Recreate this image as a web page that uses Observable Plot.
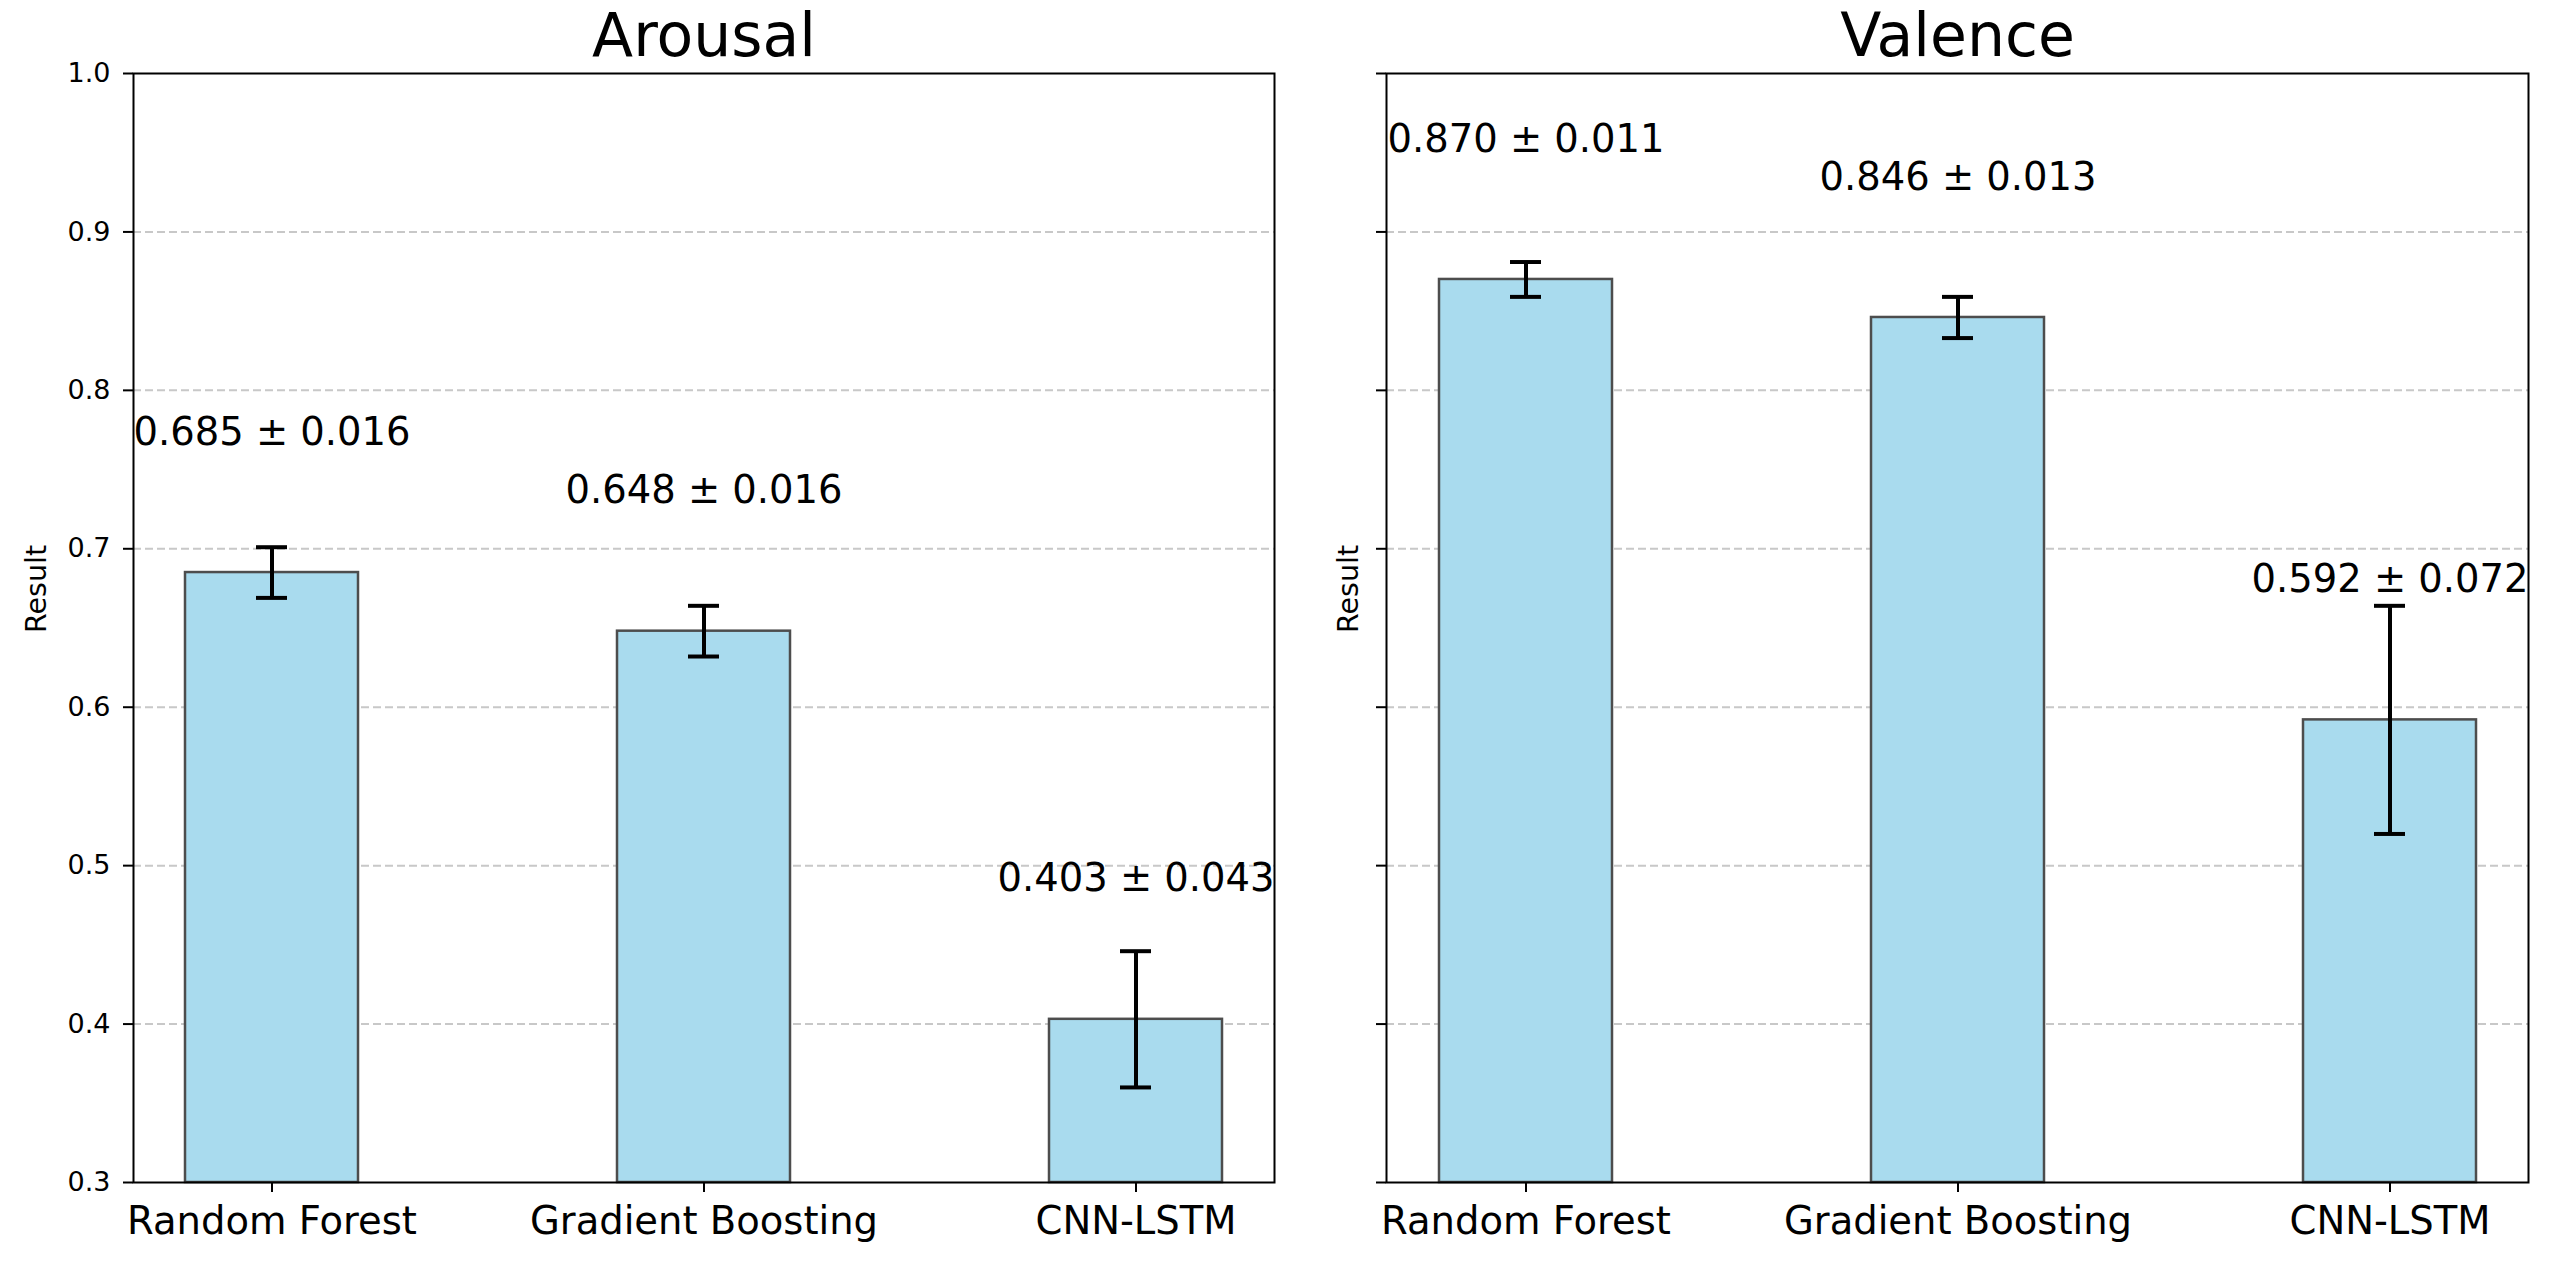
<!DOCTYPE html>
<html><head><meta charset="utf-8">
<script src="https://cdn.jsdelivr.net/npm/d3@7"></script>
<script src="https://cdn.jsdelivr.net/npm/@observablehq/plot@0.6"></script>
<style>
html,body{margin:0;padding:0;background:#fff;}
#wrap{display:flex;width:2565px;height:1276px;}
#wrap svg{display:block;}
</style></head><body><div id="wrap"></div>
<script>
const models = ["Random Forest", "Gradient Boosting", "CNN-LSTM"];
const arousalMean = [0.685, 0.648, 0.403];
const arousalStd = [0.016, 0.016, 0.043];
const valenceMean = [0.870, 0.846, 0.592];
const valenceStd = [0.011, 0.013, 0.072];
const yTicks = [0.3, 0.4, 0.5, 0.6, 0.7, 0.8, 0.9, 1.0];
const titles = ["Arousal", "Valence"];
const yLabel = "Result";

function panel({title, means, stds, width, marginLeft, marginRight, showTickLabels, labelDx}) {
  const data = models.map((m, i) => ({
    model: m, mean: means[i], std: stds[i],
    lo: means[i] - stds[i], hi: means[i] + stds[i],
    label: `${means[i].toFixed(3)} ± ${stds[i].toFixed(3)}`,
    ly: means[i] + 0.075
  }));
  return Plot.plot({
    width, height: 1276, marginTop: 73, marginBottom: 94, marginLeft, marginRight,
    style: {fontFamily: "DejaVu Sans", background: "white", overflow: "visible", color: "black"},
    x: {domain: models, paddingInner: 0.6, paddingOuter: 0.12, label: null},
    y: {domain: [0.3, 1.0], label: null},
    marks: [
      Plot.gridY(yTicks.slice(1, -1), {stroke: "#c8c8c8", strokeOpacity: 1, strokeWidth: 2, strokeDasharray: "8,4"}),
      Plot.barY(data, {x: "model", y1: 0.3, y2: "mean", fill: "#a9dbee", stroke: "#4d4d4d", strokeWidth: 2.5}),
      Plot.ruleX(data, {x: "model", y1: "lo", y2: "hi", stroke: "black", strokeWidth: 4}),
      Plot.tickY(data, {x: "model", y: "lo", stroke: "black", strokeWidth: 4, insetLeft: 71, insetRight: 71}),
      Plot.tickY(data, {x: "model", y: "hi", stroke: "black", strokeWidth: 4, insetLeft: 71, insetRight: 71}),
      Plot.text(data, {x: "model", y: "ly", text: "label", fontSize: 38.5, lineAnchor: "bottom", dy: -9, fill: "black"}),
      Plot.axisX({fontSize: 38.5, tickSize: 10, tickPadding: 14, strokeWidth: 2, label: null}),
      Plot.axisY({ticks: yTicks, fontSize: 27, tickSize: 10, tickPadding: 13, strokeWidth: 2, label: null,
        tickFormat: showTickLabels ? (d => d.toFixed(1)) : (() => "")}),
      Plot.frame({stroke: "black", strokeWidth: 2}),
      Plot.text([title], {frameAnchor: "top", dy: -18, lineAnchor: "bottom", fontSize: 60, fill: "black"}),
      Plot.text([yLabel], {frameAnchor: "left", dx: labelDx, dy: 5, rotate: -90, lineAnchor: "bottom", fontSize: 28.5, fill: "black"})
    ]
  });
}

const wrap = document.getElementById("wrap");
wrap.appendChild(panel({title: titles[0], means: arousalMean, stds: arousalStd, width: 1330, marginLeft: 133, marginRight: 56, showTickLabels: true, labelDx: -88}));
wrap.appendChild(panel({title: titles[1], means: valenceMean, stds: valenceStd, width: 1235, marginLeft: 56, marginRight: 37, showTickLabels: false, labelDx: -29}));
</script></body></html>
